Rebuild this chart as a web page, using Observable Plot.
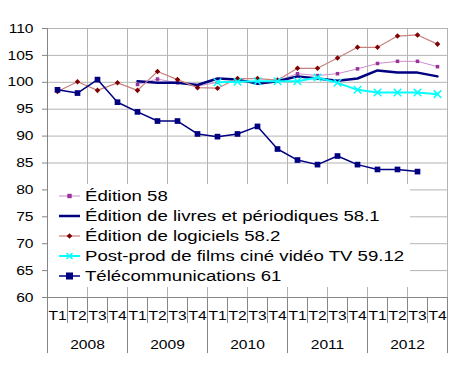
<!DOCTYPE html>
<html><head><meta charset="utf-8">
<script src="https://cdn.jsdelivr.net/npm/d3@7"></script>
<script src="https://cdn.jsdelivr.net/npm/@observablehq/plot@0.6"></script>
<style>
body{margin:0;background:#fff;}
#wrap{position:relative;width:450px;height:365px;}
#legend{position:absolute;left:48px;top:184px;width:362px;height:103px;background:#fff;font-family:'Liberation Sans',Arial,sans-serif;font-size:15.5px;color:#000;}
.row{position:absolute;left:0;height:20px;width:360px;}
.row svg{position:absolute;left:10px;top:0;}
.row span{position:absolute;left:37px;top:1px;line-height:18px;white-space:nowrap;transform:scaleX(1.2);transform-origin:left center;}
</style></head><body><div id="wrap"></div>
<script>
const quarters = ["T1","T2","T3","T4"];
const years = ["2008","2009","2010","2011","2012"];
const seriesNames = ["Édition 58","Édition de livres et périodiques 58.1","Édition de logiciels 58.2","Post-prod de films ciné vidéo TV 59.12","Télécommunications 61"];
const edition58 = [null,null,null,null,99.6,100.6,99.9,99.3,100.0,100.3,99.9,100.3,101.6,101.25,101.6,102.5,103.5,103.9,103.9,102.9];
const livres = [null,null,null,null,100.2,99.9,99.9,99.5,100.7,100.5,99.75,100.2,101.1,100.7,100.3,100.7,102.2,101.8,101.8,101.1];
const logiciels = [98.3,100.1,98.5,99.9,98.5,102.0,100.5,99.0,98.9,100.7,100.7,100.4,102.6,102.6,104.5,106.5,106.5,108.6,108.8,107.1];
const postprod = [null,null,null,null,null,null,null,null,100.0,100.1,100.2,100.2,100.2,100.9,99.9,98.6,98.1,98.1,98.1,97.8];
const telecom = [98.6,98.0,100.5,96.3,94.5,92.8,92.8,90.4,89.9,90.4,91.8,87.6,85.55,84.7,86.3,84.7,83.8,83.8,83.4,null];

const values = [edition58, livres, logiciels, postprod, telecom];
const styles = [
  {line:"#cc8fcc", width:1, symbol:"square", r:2, fill:"#993399", stroke:"none"},
  {line:"#000080", width:2.5, symbol:null},
  {line:"#c88080", width:1.2, symbol:"diamond2", r:2.5, fill:"#800000", stroke:"none"},
  {line:"#00ffff", width:2, symbol:"times", r:3.5, fill:"none", stroke:"#00ffff"},
  {line:"#000080", width:1.5, symbol:"square", r:3.2, fill:"#000080", stroke:"none"}
];

const N = years.length * quarters.length;
const rows = [];
values.forEach((vals, k) => vals.forEach((v, i) => rows.push({k, name: seriesNames[k], x: i + 0.5, y: v})));

const grid = "#b4b4b4", axisC = "#868686";
const marks = [
  Plot.gridY(d3.range(60, 111, 5), {stroke: grid, strokeOpacity: 1}),
  Plot.gridX(d3.range(0, N + 1, 2), {stroke: grid, strokeOpacity: 1}),
  Plot.axisY(d3.range(60, 111, 5), {tickSize: 5, tickPadding: 9, stroke: axisC, label: null, fontSize: 13}),
  Plot.axisX(d3.range(0, N + 1), {tickSize: 26, tickFormat: () => "", stroke: axisC, label: null}),
  Plot.axisX(d3.range(0, N + 1, 4), {tickSize: 56, tickFormat: () => "", stroke: axisC, label: null}),
  Plot.axisX(d3.range(N).map(i => i + 0.5), {tickSize: 0, tickPadding: 13, tickFormat: d => quarters[Math.floor(d) % 4], label: null, fontSize: 13}),
  Plot.axisX(years.map((y, j) => j * 4 + 2), {tickSize: 0, tickPadding: 42, tickFormat: d => years[(d - 2) / 4], label: null, fontSize: 13}),
  Plot.ruleX([0], {stroke: axisC}),
  Plot.ruleY([60], {stroke: axisC})
];
styles.forEach((s, k) => {
  const data = rows.filter(d => d.k === k);
  marks.push(Plot.line(data, {x: "x", y: "y", stroke: s.line, strokeWidth: s.width}));
  if (s.symbol) marks.push(Plot.dot(data.filter(d => d.y != null), {x: "x", y: "y", symbol: s.symbol, r: s.r, fill: s.fill, stroke: s.stroke, strokeWidth: 1.5}));
});

const chart = Plot.plot({
  width: 450, height: 365,
  marginLeft: 47, marginRight: 3, marginTop: 28, marginBottom: 68,
  style: {fontFamily: "'Liberation Sans', Arial, sans-serif", fontSize: "13px", background: "#fff", color: "#000"},
  x: {domain: [0, N]},
  y: {domain: [60, 110]},
  marks
});
const S = 1.2;
chart.querySelectorAll("text").forEach(t => {
  const tr = t.getAttribute("transform") || "";
  t.setAttribute("transform", `${tr} scale(${S},1)`);
});
const wrap = document.getElementById("wrap");
wrap.appendChild(chart);

const legend = document.createElement("div");
legend.id = "legend";
seriesNames.forEach((name, k) => {
  const s = styles[k];
  const row = document.createElement("div");
  row.className = "row";
  row.style.top = (2 + 20 * k) + "px";
  let marker = "";
  const cx = 11.5, cy = 10;
  if (s.symbol === "square") { const h = s.r * 1.1; marker = `<rect x="${cx-h}" y="${cy-h}" width="${2*h}" height="${2*h}" fill="${s.fill}"/>`; }
  else if (s.symbol === "diamond2") marker = `<rect x="${cx-2}" y="${cy-2}" width="4" height="4" fill="${s.fill}" transform="rotate(45 ${cx} ${cy})"/>`;
  else if (s.symbol === "times") marker = `<path d="M${cx-3},${cy-3}L${cx+3},${cy+3}M${cx-3},${cy+3}L${cx+3},${cy-3}" stroke="${s.stroke}" stroke-width="1.5"/>`;
  row.innerHTML = `<svg width="24" height="20"><line x1="1" x2="22" y1="10" y2="10" stroke="${s.line}" stroke-width="${s.width}"/>${marker}</svg><span>${name}</span>`;
  legend.appendChild(row);
});
wrap.appendChild(legend);
</script></body></html>
